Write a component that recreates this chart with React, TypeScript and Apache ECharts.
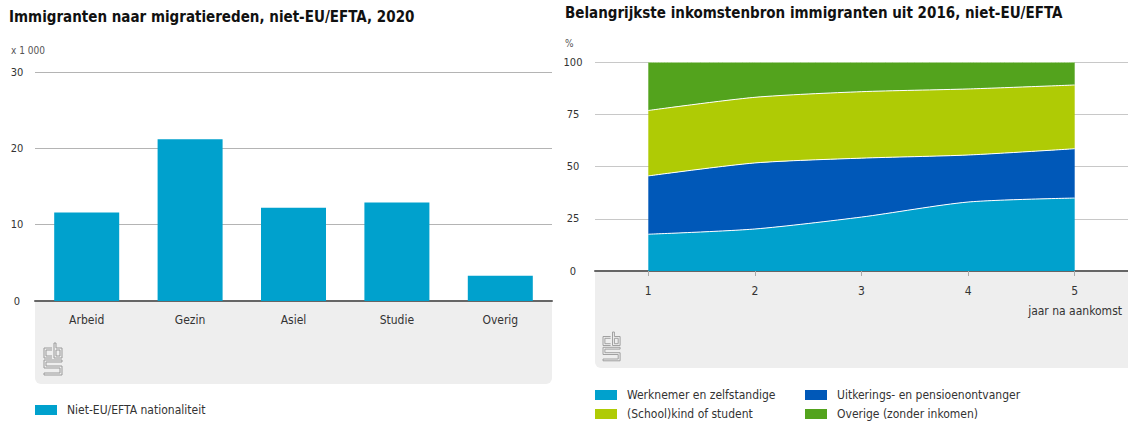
import React, { useEffect, useRef } from "react";
import * as echarts from "echarts";

const barCategories = ["Arbeid", "Gezin", "Asiel", "Studie", "Overig"];
const barValues = [11.6, 21.2, 12.2, 12.9, 3.3];
const barTicks = [0, 10, 20, 30];

const years = ["1", "2", "3", "4", "5"];
const werknemer = [17.6, 20.1, 25.8, 33.0, 34.9];
const uitkering = [27.9, 31.6, 28.2, 22.5, 23.6];
const school = [31.3, 31.4, 31.8, 31.6, 30.5];
const overige = [23.2, 16.9, 14.2, 12.9, 11.0];

const FONT = "'DejaVu Sans Condensed', 'Liberation Sans Narrow', 'Roboto', sans-serif";
const C_LB = "#00a1cd";
const C_DB = "#0058b8";
const C_YG = "#afcb05";
const C_GR = "#53a31d";

const cbsPath =
  "M8 5 H0 V15 H8 M8 7 H2 V13 H8 " +
  "M10 0 H12 V5 H18 V15 H10 Z M12 7 H16 V13 H12 Z " +
  "M18 17 H0 V25 H16 V30 H0 V32 H18 V23 H2 V19 H18 Z";

let registered = false;
function registerLogo() {
  if (registered) return;
  registered = true;
  const Logo = (echarts.graphic as any).extendPath(cbsPath, {});
  (echarts.graphic as any).registerShape("cbslogo", Logo);
}

export default function App() {
  const ref = useRef<HTMLDivElement>(null);
  useEffect(() => {
    if (!ref.current) return;
    registerLogo();
    const chart = echarts.init(ref.current, null, { renderer: "svg" });
    const legendText = { fontFamily: FONT, fontSize: 12, color: "#333", padding: [0, 0, 0, 5] };
    const logoStyle = { stroke: "#9a9a9a", fill: "none", lineWidth: 1 };
    const leg = (left: number, top: number, name: string) => ({
      left,
      top,
      padding: 0,
      itemWidth: 22,
      itemHeight: 10,
      icon: "rect",
      data: [name],
      textStyle: legendText,
    });
    chart.setOption({
      animation: false,
      textStyle: { fontFamily: FONT },
      title: [
        {
          text: "Immigranten naar migratiereden, niet-EU/EFTA, 2020",
          left: 9,
          top: 9,
          padding: 0,
          textStyle: { fontFamily: FONT, fontSize: 15, fontWeight: "bold", color: "#111" },
        },
        {
          text: "Belangrijkste inkomstenbron immigranten uit 2016, niet-EU/EFTA",
          left: 565,
          top: 5,
          padding: 0,
          textStyle: { fontFamily: FONT, fontSize: 15, fontWeight: "bold", color: "#111" },
        },
      ],
      graphic: [
        { type: "rect", z: -10, shape: { x: 35, y: 302, width: 517, height: 82, r: [0, 0, 6, 6] }, style: { fill: "#eeeeee" } },
        { type: "rect", z: -10, shape: { x: 595, y: 272, width: 540, height: 96, r: [0, 0, 0, 6] }, style: { fill: "#eeeeee" } },
        { type: "text", left: 11, top: 45, style: { text: "x 1 000", fontFamily: FONT, fontSize: 10, fill: "#555" } },
        { type: "text", left: 565, top: 38, style: { text: "%", fontFamily: FONT, fontSize: 10, fill: "#555" } },
        { type: "text", x: 1122, y: 311, style: { text: "jaar na aankomst", fontFamily: FONT, fontSize: 12, fill: "#333", align: "right", verticalAlign: "middle" } },
        { type: "cbslogo", x: 44, y: 343, style: logoStyle },
        { type: "cbslogo", x: 603, y: 332, scaleX: 0.95, scaleY: 0.9, style: logoStyle },
      ],
      legend: [
        leg(35, 404, "Niet-EU/EFTA nationaliteit"),
        leg(595, 389, "Werknemer en zelfstandige"),
        leg(805, 389, "Uitkerings- en pensioenontvanger"),
        leg(595, 408, "(School)kind of student"),
        leg(805, 408, "Overige (zonder inkomen)"),
      ],
      grid: [
        { left: 35, top: 72, width: 517, height: 229 },
        { left: 595, top: 62, width: 533, height: 209 },
      ],
      xAxis: [
        {
          gridIndex: 0,
          type: "category",
          data: barCategories,
          axisLine: { lineStyle: { color: "#666", width: 2 } },
          axisTick: { show: false },
          axisLabel: { margin: 13, fontFamily: FONT, fontSize: 12, color: "#333" },
        },
        {
          gridIndex: 1,
          type: "category",
          data: years,
          boundaryGap: true,
          axisLine: { lineStyle: { color: "#666", width: 2 } },
          axisTick: { show: true, alignWithLabel: true, length: 5, lineStyle: { color: "#aaa" } },
          axisLabel: { margin: 14, fontFamily: FONT, fontSize: 12, color: "#333" },
        },
      ],
      yAxis: [
        {
          gridIndex: 0,
          type: "value",
          min: barTicks[0],
          max: barTicks[barTicks.length - 1],
          interval: 10,
          axisLine: { show: false },
          axisTick: { show: false },
          splitLine: { lineStyle: { color: "#b4b4b4", width: 1 } },
          axisLabel: { align: "center", margin: 18, fontFamily: FONT, fontSize: 11, color: "#333" },
        },
        {
          gridIndex: 1,
          type: "value",
          min: 0,
          max: 100,
          interval: 25,
          axisLine: { show: false },
          axisTick: { show: false },
          splitLine: { lineStyle: { color: "#c8c8c8", width: 1 } },
          axisLabel: { align: "center", margin: 22, fontFamily: FONT, fontSize: 11, color: "#333" },
        },
      ],
      series: [
        {
          name: "Niet-EU/EFTA nationaliteit",
          type: "bar",
          xAxisIndex: 0,
          yAxisIndex: 0,
          data: barValues,
          barWidth: 65,
          itemStyle: { color: C_LB },
        },
        ...[
          ["Werknemer en zelfstandige", werknemer, C_LB],
          ["Uitkerings- en pensioenontvanger", uitkering, C_DB],
          ["(School)kind of student", school, C_YG],
          ["Overige (zonder inkomen)", overige, C_GR],
        ].map(([name, data, color]) => ({
          name,
          type: "line",
          xAxisIndex: 1,
          yAxisIndex: 1,
          stack: "total",
          data,
          smooth: 0.25,
          symbol: "none",
          itemStyle: { color },
          lineStyle: { color: "#ffffff", width: 1 },
          areaStyle: { color, opacity: 1 },
          z: 3,
        })),
      ],
    });
    return () => chart.dispose();
  }, []);
  return (
    <div
      ref={ref}
      style={{ position: "fixed", left: 0, top: 0, width: 1128, height: 423, background: "#fff" }}
    />
  );
}
